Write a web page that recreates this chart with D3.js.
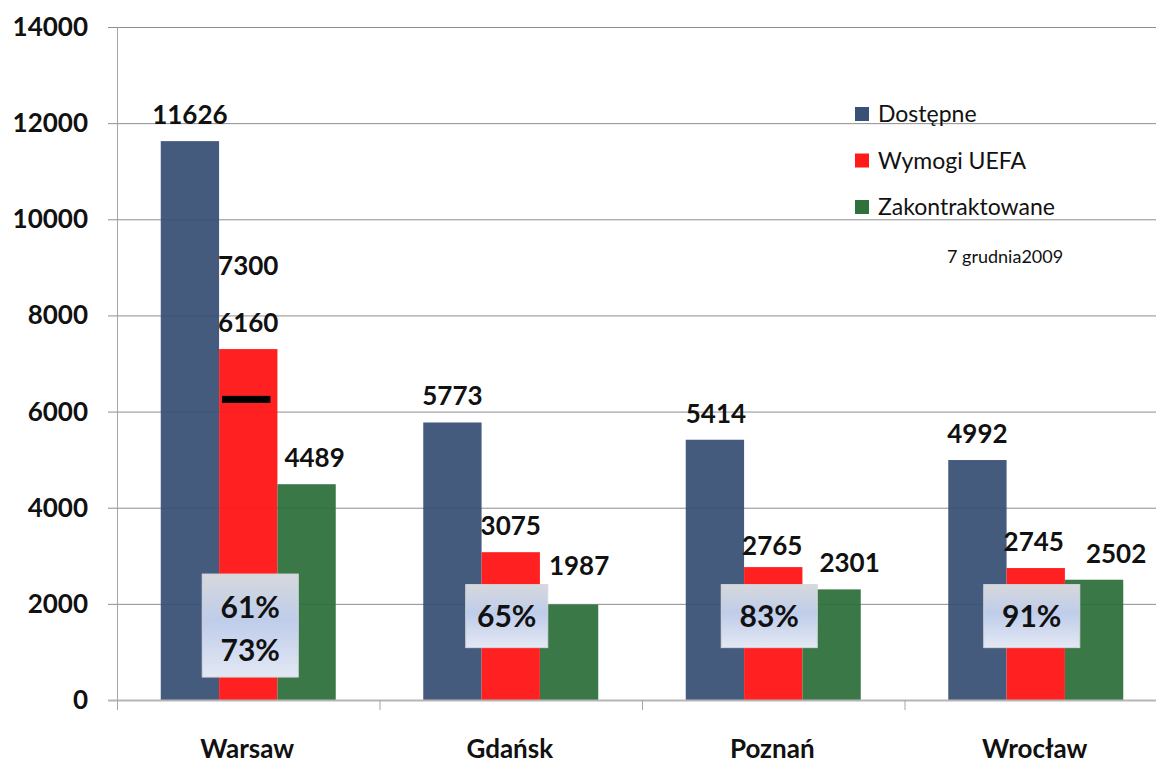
<!DOCTYPE html>
<html>
<head>
<meta charset="utf-8">
<script src="https://cdn.jsdelivr.net/npm/d3@7"></script>
<style>
  html, body { margin: 0; padding: 0; background: #fff; }
  svg { display: block; font-family: Lato, "Open Sans", sans-serif; }
</style>
</head>
<body>
<svg id="chart" width="1156" height="765"></svg>
<script>
const cities = ["Warsaw", "Gdańsk", "Poznań", "Wrocław"];
const seriesNames = ["Dostępne", "Wymogi UEFA", "Zakontraktowane"];
const dostepne = [11626, 5773, 5414, 4992];
const wymogi = [7300, 3075, 2765, 2745];
const zakontraktowane = [4489, 1987, 2301, 2502];
const warsawRequirement = 6160;
const percentLabels = [["61%", "73%"], ["65%"], ["83%"], ["91%"]];
const yTicks = [0, 2000, 4000, 6000, 8000, 10000, 12000, 14000];
const dateNote = "7 grudnia2009";

const colors = ["#385176", "#ff1a1a", "#2f703b"];
const series = [dostepne, wymogi, zakontraktowane];

const svg = d3.select("#chart");
const y = d3.scaleLinear().domain([0, 14000]).range([700, 27]);
const x0 = d3.scaleBand().domain(cities).range([117, 1167]).paddingInner(0).paddingOuter(0);
const x1 = d3.scaleBand().domain(seriesNames).range([0, x0.bandwidth()]).paddingInner(0).paddingOuter(0.75);

// gridlines
svg.append("g").selectAll("line").data(yTicks.filter(d => d > 0)).join("line")
  .attr("x1", 108).attr("x2", 1156)
  .attr("y1", d => y(d) + 0.5).attr("y2", d => y(d) + 0.5)
  .attr("stroke", "#8d8d8d").attr("stroke-width", 1);

// bars
const groups = svg.append("g").selectAll("g").data(cities).join("g")
  .attr("transform", d => `translate(${x0(d)},0)`);
groups.selectAll("rect").data((c, i) => seriesNames.map((s, k) => ({s, k, v: series[k][i]}))).join("rect")
  .attr("x", d => x1(d.s))
  .attr("width", x1.bandwidth())
  .attr("y", d => y(d.v))
  .attr("height", d => y(0) - y(d.v))
  .attr("fill", d => colors[d.k])
  .attr("fill-opacity", d => d.k === 1 ? 0.97 : 0.94);

// baseline and y-axis
svg.append("line").attr("x1", 108).attr("x2", 1156).attr("y1", 700.5).attr("y2", 700.5)
  .attr("stroke", "#b5b5b5").attr("stroke-width", 2);
svg.append("line").attr("x1", 117.5).attr("x2", 117.5).attr("y1", 27).attr("y2", 710)
  .attr("stroke", "#a5a5a5").attr("stroke-width", 1);
// category ticks
svg.append("g").selectAll("line").data(cities.slice(1)).join("line")
  .attr("x1", d => x0(d) + 0.5).attr("x2", d => x0(d) + 0.5)
  .attr("y1", 700).attr("y2", 710)
  .attr("stroke", "#a5a5a5");

// y tick labels
svg.append("g").selectAll("text").data(yTicks).join("text")
  .attr("x", 88).attr("y", d => y(d) + 9)
  .attr("text-anchor", "end")
  .attr("font-size", 26).attr("font-weight", 700).attr("fill", "#111")
  .text(d => d);

// category labels
svg.append("g").selectAll("text").data(cities).join("text")
  .attr("x", d => x0(d) + x0.bandwidth() / 2 - 1)
  .attr("y", 758)
  .attr("text-anchor", "middle")
  .attr("font-size", 26).attr("font-weight", 700).attr("fill", "#111")
  .text(d => d);

// Warsaw requirement marker
svg.append("rect")
  .attr("x", x0("Warsaw") + x1("Wymogi UEFA") + 3)
  .attr("width", x1.bandwidth() - 10)
  .attr("y", y(warsawRequirement) - 8)
  .attr("height", 7)
  .attr("fill", "#000");

// value labels (with nudges like the original)
const nudge = {
  "0-0": [0, 0], "0-1": [0, -57], "0-2": [8, 0],
  "1-0": [0, 0], "1-1": [0, 0], "1-2": [10, -12],
  "2-0": [1, 0], "2-1": [-1, 5], "2-2": [18, 0],
  "3-0": [0, 0], "3-1": [-2, 0], "3-2": [22, 0]
};
const labelData = [];
cities.forEach((c, i) => seriesNames.forEach((s, k) => {
  labelData.push({c, s, i, k, v: series[k][i]});
}));
svg.append("g").selectAll("text").data(labelData).join("text")
  .attr("x", d => x0(d.c) + x1(d.s) + x1.bandwidth() / 2 + nudge[d.i + "-" + d.k][0])
  .attr("y", d => y(d.v) - 17 + nudge[d.i + "-" + d.k][1])
  .attr("text-anchor", "middle")
  .attr("font-size", 26).attr("font-weight", 700).attr("fill", "#111")
  .text(d => d.v);
svg.append("text")
  .attr("x", x0("Warsaw") + x1("Wymogi UEFA") + x1.bandwidth() / 2)
  .attr("y", y(wymogi[0]) - 17)
  .attr("text-anchor", "middle")
  .attr("font-size", 26).attr("font-weight", 700).attr("fill", "#111")
  .text(warsawRequirement);

// gradient for percent boxes
const defs = svg.append("defs");
const grad = defs.append("linearGradient").attr("id", "pbox").attr("x1", 0).attr("x2", 0).attr("y1", 0).attr("y2", 1);
grad.append("stop").attr("offset", "0%").attr("stop-color", "#d6d8dc");
grad.append("stop").attr("offset", "45%").attr("stop-color", "#bfcdea");
grad.append("stop").attr("offset", "100%").attr("stop-color", "#e3e8f4");

// percent boxes
const boxes = svg.append("g").selectAll("g").data(percentLabels).join("g");
boxes.each(function(lines, i) {
  const g = d3.select(this);
  const cx = x0(cities[i]) + x1("Wymogi UEFA") + x1.bandwidth() / 2 + (i === 0 ? 2 : -4);
  const w = i === 1 ? 82 : 96;
  const top = lines.length > 1 ? y(2620) : y(2400);
  const h = lines.length > 1 ? 103 : 63;
  g.append("rect")
    .attr("x", cx - w / 2).attr("y", top).attr("width", w).attr("height", h)
    .attr("fill", "url(#pbox)").attr("stroke", "#d4d7dd").attr("stroke-width", 1);
  lines.forEach((t, j) => {
    g.append("text")
      .attr("x", cx).attr("y", top + (lines.length > 1 ? 44 + j * 43 : 42))
      .attr("text-anchor", "middle")
      .attr("font-size", 30).attr("font-weight", 700).attr("fill", "#111")
      .text(t);
  });
});

// legend
const legend = svg.append("g").selectAll("g").data(seriesNames).join("g")
  .attr("transform", (d, i) => `translate(855, ${107 + i * 46.5})`);
legend.append("rect").attr("width", 14).attr("height", 14).attr("fill", (d, i) => colors[i]);
legend.append("text").attr("x", 23).attr("y", 15)
  .attr("font-size", 23).attr("fill", "#111").text(d => d);

svg.append("text").attr("x", 947).attr("y", 263)
  .attr("font-size", 18).attr("fill", "#111").text(dateNote);
</script>
</body>
</html>
